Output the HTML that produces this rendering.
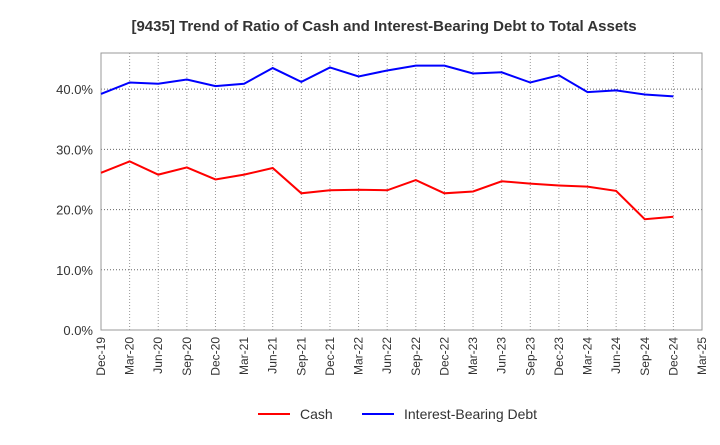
<!DOCTYPE html>
<html><head><meta charset="utf-8"><style>
body{margin:0;background:#fff;font-family:"Liberation Sans",sans-serif}
</style></head><body>
<svg id="c" width="720" height="440" xmlns="http://www.w3.org/2000/svg">
<text x="384" y="31" text-anchor="middle" font-size="15" font-weight="bold" fill="#333">[9435]  Trend of Ratio of Cash and Interest-Bearing Debt to Total Assets</text>
<g id="grid"></g><g id="axes"></g><g id="series"></g>
<g>
<line x1="258" y1="414" x2="290" y2="414" stroke="#f00" stroke-width="2"/>
<text x="300" y="419" font-size="14" fill="#333">Cash</text>
<line x1="362" y1="414" x2="394" y2="414" stroke="#00f" stroke-width="2"/>
<text x="404" y="419" font-size="14" fill="#333">Interest-Bearing Debt</text>
</g>
</svg>
<script>
const categories=["Dec-19","Mar-20","Jun-20","Sep-20","Dec-20","Mar-21","Jun-21","Sep-21","Dec-21","Mar-22","Jun-22","Sep-22","Dec-22","Mar-23","Jun-23","Sep-23","Dec-23","Mar-24","Jun-24","Sep-24","Dec-24","Mar-25"];
const cash=[26.1,28.0,25.8,27.0,25.0,25.8,26.9,22.7,23.2,23.3,23.2,24.9,22.7,23.0,24.7,24.3,24.0,23.8,23.1,18.4,18.8];
const debt=[39.2,41.1,40.9,41.6,40.5,40.9,43.5,41.2,43.6,42.1,43.1,43.9,43.9,42.6,42.8,41.1,42.3,39.5,39.8,39.1,38.8];
const yTicks=[0,10,20,30,40];
const X0=101,X1=702,Y0=330,YT=53,YMAX=46;
const x=i=>X0+i*(X1-X0)/(categories.length-1);
const y=v=>Y0-v*(Y0-YT)/YMAX;
const NS="http://www.w3.org/2000/svg";
function mk(t,a,p){const e=document.createElementNS(NS,t);for(const k in a)e.setAttribute(k,a[k]);p.appendChild(e);return e;}
const g=document.getElementById('grid'),ax=document.getElementById('axes'),s=document.getElementById('series');
categories.forEach((c,i)=>{
 const l=mk('line',{x1:x(i),x2:x(i),y1:YT,y2:Y0,stroke:'#999','stroke-dasharray':'1,2'},g);
 
 
 const t=mk('text',{x:0,y:0,'font-size':12,fill:'#333','text-anchor':'end',transform:`translate(${x(i)+4},${Y0+7}) rotate(-90)`},ax);
 t.textContent=c;
 
 
});
yTicks.forEach(v=>{
 const l=mk('line',{x1:X0,x2:X1,y1:y(v),y2:y(v),stroke:'#666','stroke-dasharray':'1,2'},g);
 
 
 const t=mk('text',{x:X0-8,y:y(v)+5,'font-size':13,fill:'#333','text-anchor':'end'},ax);
 t.textContent=v.toFixed(1)+'%';
 
 
});
const b=mk('rect',{x:X0,y:YT,width:X1-X0,height:Y0-YT,fill:'none',stroke:'#999'},ax);


const p1=mk('polyline',{points:cash.map((v,i)=>x(i)+','+y(v)).join(' '),fill:'none',stroke:'#f00','stroke-width':2},s);


const p2=mk('polyline',{points:debt.map((v,i)=>x(i)+','+y(v)).join(' '),fill:'none',stroke:'#00f','stroke-width':2},s);


</script>
</body></html>
